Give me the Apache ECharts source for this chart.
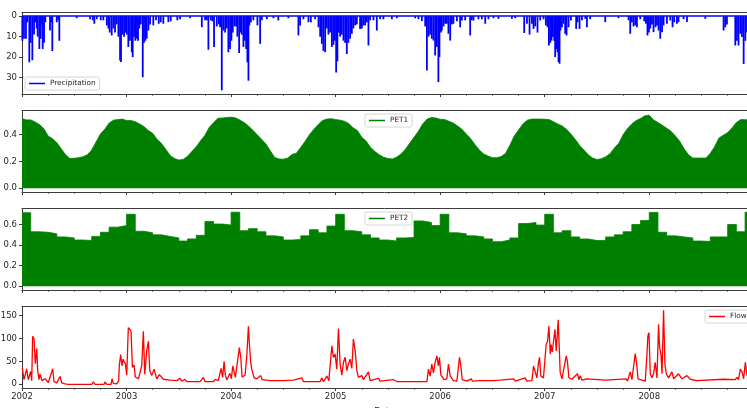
<!DOCTYPE html>
<html><head><meta charset="utf-8">
<script src="https://cdn.jsdelivr.net/npm/echarts@6/dist/echarts.min.js"></script>
<style>html,body{margin:0;padding:0;background:#fff}#c{width:747px;height:408px}</style>
</head><body><div id="c"></div>
<script>
// ---------------- DATA ----------------
const years = [2002, 2003, 2004, 2005, 2006, 2007, 2008];
const yearTicks = [2002, 2003, 2004, 2005, 2006, 2007, 2008];
const precipTicks = [0, 10, 20, 30];
const pet1Ticks = [0, 0.2, 0.4];
const pet2Ticks = [0, 0.2, 0.4, 0.6];
const flowTicks = [0, 50, 100, 150];

// Precipitation events: [fraction of year, mm]
const precip2002 = [[0.003,12],[0.019,11],[0.038,11],[0.051,3],[0.070,22.5],[0.083,13],[0.099,21.5],[0.115,9],[0.127,3],[0.141,6],[0.150,10],[0.166,16],[0.179,11],[0.191,4],[0.198,16],[0.211,13],[0.223,3],[0.268,7],[0.280,3],[0.290,17],[0.332,3],[0.347,2],[0.357,12],[0.523,1],[0.651,1.5],[0.677,2],[0.692,3.7],[0.715,1.5],[0.753,2],[0.778,2],[0.811,4.5],[0.826,6],[0.839,8],[0.858,9.4],[0.874,6],[0.890,8],[0.906,4],[0.922,10],[0.938,21.6],[0.947,22.4],[0.960,9],[0.976,10],[0.989,8]];
const precip2003 = [[0.002,9],[0.017,15],[0.033,12],[0.050,17.6],[0.059,20],[0.072,10],[0.084,12],[0.098,11],[0.110,12],[0.122,6],[0.136,4],[0.155,29.8],[0.167,13],[0.180,12],[0.193,11],[0.209,7],[0.225,4],[0.256,4.5],[0.282,2],[0.308,3.7],[0.327,3],[0.352,3.7],[0.400,2.9],[0.423,2.5],[0.486,2],[0.512,1.5],[0.608,1],[0.720,5.4],[0.751,2],[0.768,2],[0.783,16.4],[0.806,2],[0.821,2.5],[0.837,15],[0.863,5],[0.882,4],[0.895,5.4],[0.911,36.2],[0.926,7],[0.943,8],[0.959,6],[0.974,17.6],[0.990,16]];
const precip2004 = [[0.003,12],[0.016,8],[0.032,5],[0.048,5],[0.060,10],[0.077,18],[0.089,8],[0.102,9],[0.118,15],[0.131,12],[0.144,16],[0.156,22.5],[0.166,31.5],[0.175,4.5],[0.189,3],[0.213,2],[0.252,4.5],[0.278,13.5],[0.294,2],[0.342,1.5],[0.405,1],[0.452,2.1],[0.548,1],[0.644,9.4],[0.660,4.5],[0.692,1.5],[0.740,2.9],[0.763,3],[0.804,1.5],[0.836,5.4],[0.852,10],[0.868,13.5],[0.883,17],[0.900,17.6],[0.916,6],[0.931,9],[0.947,8],[0.964,15],[0.979,14],[0.993,12]];
const precip2005 = [[0.005,27.5],[0.017,22],[0.031,8],[0.043,10],[0.059,9],[0.075,12],[0.091,13],[0.107,18.5],[0.122,13],[0.139,11],[0.155,8.6],[0.170,6],[0.187,4.5],[0.203,4],[0.234,6.2],[0.251,6],[0.266,4.5],[0.282,4.5],[0.299,3],[0.314,14.3],[0.330,2],[0.362,2],[0.394,7],[0.426,1.5],[0.457,1.5],[0.538,1.5],[0.586,1],[0.761,1],[0.793,1.5],[0.825,2.4],[0.857,5],[0.873,26.5],[0.888,10],[0.904,9],[0.920,11],[0.936,11.9],[0.952,19.2],[0.968,15],[0.983,32.2],[0.993,20]];
const precip2006 = [[0.007,8],[0.016,7],[0.032,5],[0.048,3.7],[0.064,3.7],[0.079,8.6],[0.096,11.9],[0.112,4],[0.127,3.7],[0.160,2.5],[0.191,5.4],[0.208,2.1],[0.239,2],[0.287,9.4],[0.303,2],[0.319,2.1],[0.366,1.5],[0.399,1.5],[0.431,3.7],[0.462,1.5],[0.510,1],[0.558,1.3],[0.686,1.3],[0.718,1],[0.804,8.2],[0.830,3.7],[0.855,9],[0.878,3.7],[0.893,6.2],[0.909,5],[0.931,8],[0.957,2.1],[0.989,1.5]];
const precip2007 = [[0.011,4.5],[0.027,5.4],[0.040,14.3],[0.053,13],[0.065,11.9],[0.078,10.2],[0.091,12],[0.100,20],[0.110,16],[0.122,17.6],[0.132,22.4],[0.142,23.2],[0.151,7],[0.165,5.4],[0.180,3.7],[0.196,8.6],[0.209,9.4],[0.228,5.4],[0.251,2.1],[0.301,6.2],[0.314,3],[0.333,6.2],[0.356,2],[0.388,1.3],[0.404,5.4],[0.435,1.5],[0.579,2.9],[0.706,1],[0.802,2],[0.818,8.6],[0.834,3],[0.850,5],[0.866,4.5],[0.882,5.4],[0.914,1.5],[0.952,2.5],[0.968,3.7],[0.983,9.4],[0.997,8]];
const precip2008 = [[0.010,6],[0.026,4],[0.041,7.8],[0.060,5.4],[0.074,4.5],[0.089,7],[0.105,11],[0.122,7.8],[0.137,4.5],[0.169,3.7],[0.201,2.1],[0.223,5.4],[0.239,3],[0.265,3.7],[0.280,2.9],[0.328,1.5],[0.361,2.9],[0.536,1.3],[0.711,7],[0.727,5.4],[0.743,4],[0.823,14.3],[0.839,12],[0.854,14.3],[0.871,8.6],[0.887,10.2],[0.903,23.3],[0.919,12],[0.935,8],[0.967,6],[0.995,4]];

// PET1: values on the 1st and 16th of each month
const pet1_2002 = [0.52,0.51,0.51,0.495,0.475,0.445,0.39,0.37,0.34,0.295,0.25,0.222,0.224,0.228,0.235,0.25,0.285,0.345,0.405,0.44,0.486,0.508,0.512,0.516];
const pet1_2003 = [0.505,0.505,0.497,0.48,0.46,0.43,0.41,0.365,0.335,0.29,0.245,0.222,0.21,0.215,0.238,0.275,0.31,0.355,0.395,0.455,0.49,0.522,0.524,0.528];
const pet1_2004 = [0.53,0.525,0.51,0.49,0.465,0.432,0.40,0.365,0.33,0.28,0.23,0.218,0.217,0.225,0.252,0.262,0.305,0.35,0.40,0.44,0.475,0.505,0.516,0.519];
const pet1_2005 = [0.513,0.508,0.50,0.483,0.452,0.43,0.38,0.352,0.305,0.275,0.25,0.232,0.222,0.218,0.232,0.255,0.29,0.335,0.38,0.425,0.48,0.516,0.528,0.524];
const pet1_2006 = [0.514,0.513,0.50,0.486,0.465,0.44,0.405,0.37,0.325,0.285,0.255,0.24,0.228,0.228,0.236,0.26,0.32,0.39,0.435,0.48,0.508,0.516,0.516,0.516];
const pet1_2007 = [0.515,0.512,0.497,0.48,0.465,0.44,0.405,0.365,0.32,0.285,0.25,0.225,0.214,0.22,0.235,0.258,0.30,0.335,0.40,0.445,0.48,0.505,0.52,0.54];
const pet1_2008 = [0.545,0.51,0.49,0.47,0.448,0.425,0.39,0.35,0.295,0.25,0.225,0.225,0.225,0.225,0.26,0.31,0.375,0.395,0.415,0.45,0.49,0.512,0.511,0.51];

// PET2: monthly values
const pet2_2002 = [0.715,0.53,0.525,0.51,0.48,0.47,0.45,0.445,0.485,0.525,0.575,0.59];
const pet2_2003 = [0.70,0.535,0.52,0.50,0.485,0.47,0.44,0.46,0.495,0.63,0.605,0.595];
const pet2_2004 = [0.72,0.54,0.56,0.53,0.49,0.48,0.45,0.455,0.49,0.55,0.52,0.585];
const pet2_2005 = [0.70,0.54,0.53,0.50,0.47,0.45,0.44,0.47,0.475,0.635,0.62,0.59];
const pet2_2006 = [0.70,0.52,0.51,0.49,0.48,0.46,0.433,0.45,0.47,0.61,0.62,0.595];
const pet2_2007 = [0.70,0.52,0.54,0.48,0.46,0.445,0.445,0.48,0.50,0.53,0.60,0.64];
const pet2_2008 = [0.718,0.525,0.49,0.48,0.47,0.44,0.435,0.48,0.48,0.60,0.53,0.72];

// Flow: [fraction of year, value]
const flow2002 = [[0.003,36],[0.019,10],[0.045,34],[0.060,10],[0.083,28],[0.093,8],[0.102,105],[0.115,100],[0.127,45],[0.141,78],[0.150,30],[0.163,10],[0.172,22],[0.191,8],[0.220,12],[0.252,4],[0.294,34],[0.306,6],[0.332,3],[0.364,17],[0.380,3],[0.411,1],[0.443,0],[0.667,0],[0.682,5],[0.699,0],[0.785,0],[0.794,5],[0.811,0],[0.852,0],[0.861,12],[0.874,2],[0.906,1],[0.925,8],[0.931,42],[0.944,65],[0.957,40],[0.967,55],[0.976,50],[0.989,45]];
const flow2003 = [[0.002,20],[0.017,124],[0.031,127],[0.043,116],[0.056,37],[0.072,42],[0.084,16],[0.113,12],[0.145,40],[0.161,116],[0.174,22],[0.193,73],[0.209,94],[0.222,30],[0.241,19],[0.263,33],[0.289,12],[0.314,21],[0.352,11],[0.416,9],[0.480,8],[0.512,13],[0.528,7],[0.560,11],[0.576,6],[0.703,6],[0.735,15],[0.751,6],[0.831,6],[0.847,11],[0.878,8],[0.904,35],[0.919,15],[0.933,50],[0.945,20],[0.959,10],[0.990,24]];
const flow2004 = [[0.003,12],[0.016,40],[0.029,42],[0.041,15],[0.057,12],[0.079,80],[0.093,58],[0.105,16],[0.134,20],[0.150,62],[0.166,127],[0.175,88],[0.189,45],[0.198,33],[0.220,14],[0.246,12],[0.284,19],[0.297,10],[0.373,8],[0.501,8],[0.597,9],[0.677,14],[0.692,6],[0.852,6],[0.868,14],[0.883,6],[0.916,18],[0.935,8],[0.964,84],[0.979,59],[0.995,66]];
const flow2005 = [[0.011,33],[0.027,122],[0.043,44],[0.059,20],[0.075,48],[0.091,59],[0.107,30],[0.122,44],[0.139,55],[0.155,35],[0.170,99],[0.187,73],[0.203,30],[0.218,15],[0.251,19],[0.266,10],[0.314,27],[0.330,8],[0.410,13],[0.426,7],[0.553,10],[0.586,6],[0.873,6],[0.888,33],[0.904,18],[0.920,44],[0.936,25],[0.952,48],[0.968,62],[0.983,40],[0.993,59]];
const flow2006 = [[0.007,20],[0.038,10],[0.064,12],[0.079,44],[0.096,18],[0.127,8],[0.160,7],[0.185,59],[0.198,40],[0.211,10],[0.256,7],[0.297,12],[0.309,7],[0.383,8],[0.510,8],[0.574,9],[0.702,12],[0.718,7],[0.813,14],[0.830,7],[0.878,8],[0.893,40],[0.909,40],[0.925,14],[0.941,48],[0.950,59],[0.963,18],[0.988,14]];
const flow2007 = [[0.014,87],[0.027,94],[0.040,127],[0.053,66],[0.062,87],[0.072,70],[0.084,73],[0.098,120],[0.110,73],[0.120,106],[0.129,141],[0.139,145],[0.148,26],[0.165,12],[0.206,62],[0.218,48],[0.232,14],[0.260,11],[0.314,23],[0.327,10],[0.340,19],[0.356,9],[0.404,12],[0.419,8],[0.579,9],[0.595,7],[0.780,12],[0.792,7],[0.818,27],[0.834,10],[0.866,67],[0.882,40],[0.892,12],[0.962,7],[0.978,66],[0.987,106],[0.997,113]];
const flow2008 = [[0.010,23],[0.026,14],[0.041,23],[0.057,48],[0.074,14],[0.089,131],[0.099,80],[0.112,66],[0.122,23],[0.137,162],[0.150,44],[0.163,23],[0.185,14],[0.217,27],[0.233,12],[0.280,23],[0.297,27],[0.313,12],[0.361,19],[0.392,11],[0.456,8],[0.711,11],[0.727,8],[0.823,10],[0.839,15],[0.854,10],[0.871,33],[0.887,27],[0.903,12],[0.919,48],[0.935,20],[0.967,15],[0.999,10]];

// ---------------- BUILD ----------------
const precipYears = [precip2002, precip2003, precip2004, precip2005, precip2006, precip2007, precip2008];
const pet1Years = [pet1_2002, pet1_2003, pet1_2004, pet1_2005, pet1_2006, pet1_2007, pet1_2008];
const pet2Years = [pet2_2002, pet2_2003, pet2_2004, pet2_2005, pet2_2006, pet2_2007, pet2_2008];
const flowYears = [flow2002, flow2003, flow2004, flow2005, flow2006, flow2007, flow2008];

const precipData = [], pet1Data = [], pet2Data = [], flowData = [];
years.forEach((y, i) => {
  precipYears[i].forEach(([f, v]) => precipData.push([y + f, v]));
  pet1Years[i].forEach((v, k) => pet1Data.push([y + k / 24, v]));
  pet2Years[i].forEach((v, m) => pet2Data.push([y + m / 12, v]));
  flowYears[i].forEach(([f, v]) => flowData.push([y + f, v]));
});
pet2Data.push([years[years.length - 1] + 1, pet2_2008[11]]);

const FONT = 'DejaVu Sans';
const TXT = '#262626';
const AX = '#3c3c3c';
const LEFT = 22, WIDTH = 725, H = 81.5;
const XMIN = 2002, XMAX = 2008.935;   // visible part of the time axis
const TOPS = [12.5, 110.5, 208.5, 306.5];

const grids = TOPS.map(t => ({ left: LEFT, top: t, width: WIDTH, height: H, show: false, outerBoundsMode: 'none', containLabel: false }));

const xAxes = [];
TOPS.forEach((t, i) => {
  xAxes.push({
    type: 'value', gridIndex: i, position: 'bottom', min: XMIN, max: XMAX, interval: 1,
    axisLine: { show: true, onZero: false, lineStyle: { color: AX, width: 1 } },
    axisTick: { show: true, length: 3, customValues: yearTicks, lineStyle: { color: AX, width: 1 } },
    minorTick: { show: true, splitNumber: 4, length: 1.8, lineStyle: { color: AX, width: 0.8 } },
    splitLine: { show: false },
    axisLabel: {
      show: i === 3, margin: 4, fontFamily: FONT, fontSize: 8.5, color: TXT,
      customValues: yearTicks, formatter: v => String(Math.round(v))
    },
    name: i === 3 ? 'Date' : '', nameLocation: 'middle', nameGap: 19,
    nameTextStyle: { fontFamily: FONT, fontSize: 8.5, color: TXT }
  });
  xAxes.push({
    type: 'value', gridIndex: i, position: 'top', min: XMIN, max: XMAX,
    axisLine: { show: true, onZero: false, lineStyle: { color: AX, width: 1 } },
    axisTick: { show: false }, axisLabel: { show: false }, splitLine: { show: false }
  });
});

function yAxis(i, min, max, ticks, fmt, inverse) {
  return {
    type: 'value', gridIndex: i, min: min, max: max, inverse: !!inverse, position: 'left',
    axisLine: { show: true, onZero: false, lineStyle: { color: AX, width: 1 } },
    axisTick: { show: true, length: 3, customValues: ticks, lineStyle: { color: AX, width: 1 } },
    splitLine: { show: false },
    axisLabel: { margin: 5, fontFamily: FONT, fontSize: 8.5, color: TXT, customValues: ticks, formatter: fmt }
  };
}
const yAxes = [
  yAxis(0, -1.8, 38, precipTicks, v => String(Math.round(v)), true),
  yAxis(1, -0.028, 0.58, pet1Ticks, v => v.toFixed(1)),
  yAxis(2, -0.036, 0.756, pet2Ticks, v => v.toFixed(1)),
  yAxis(3, -8.1, 170, flowTicks, v => String(Math.round(v)))
];

const legendBase = {
  orient: 'horizontal', icon: 'rect', itemWidth: 16, itemHeight: 1.5, itemGap: 4,
  padding: [3, 4, 3, 4], backgroundColor: 'rgba(255,255,255,0.8)',
  borderColor: '#cccccc', borderWidth: 0.8, borderRadius: 2, selectedMode: false,
  textStyle: { fontFamily: FONT, fontSize: 7.3, color: TXT }
};
const legends = [
  Object.assign({}, legendBase, { data: ['Precipitation'], left: 25, top: 77 }),
  Object.assign({}, legendBase, { data: ['PET1'], left: 365, top: 114 }),
  Object.assign({}, legendBase, { data: ['PET2'], left: 365, top: 212 }),
  Object.assign({}, legendBase, { data: ['Flow'], left: 705, top: 310 })
];

const chart = echarts.init(document.getElementById('c'), null, { renderer: 'canvas' });
chart.setOption({
  animation: false,
  backgroundColor: '#ffffff',
  grid: grids, xAxis: xAxes, yAxis: yAxes, legend: legends,
  series: [
    {
      name: 'Precipitation', type: 'bar', xAxisIndex: 0, yAxisIndex: 0,
      data: precipData, barWidth: 1.8, itemStyle: { color: '#0000ff' },
      markLine: {
        silent: true, symbol: 'none', label: { show: false },
        lineStyle: { color: '#0000ff', width: 1.5, type: 'solid' },
        data: [{ yAxis: 0 }]
      }
    },
    {
      name: 'PET1', type: 'line', xAxisIndex: 2, yAxisIndex: 1, data: pet1Data,
      symbol: 'none', showSymbol: false, color: '#008000',
      lineStyle: { color: '#008000', width: 0.8 },
      areaStyle: { color: '#008000', opacity: 1 }
    },
    {
      name: 'PET2', type: 'line', xAxisIndex: 4, yAxisIndex: 2, data: pet2Data,
      step: 'end', symbol: 'none', showSymbol: false, color: '#008000',
      lineStyle: { color: '#008000', width: 0.8 },
      areaStyle: { color: '#008000', opacity: 1 }
    },
    {
      name: 'Flow', type: 'line', xAxisIndex: 6, yAxisIndex: 3, data: flowData,
      symbol: 'none', showSymbol: false, color: '#ff0000',
      lineStyle: { color: '#ff0000', width: 1.3 }
    }
  ]
});
</script>
</body></html>
